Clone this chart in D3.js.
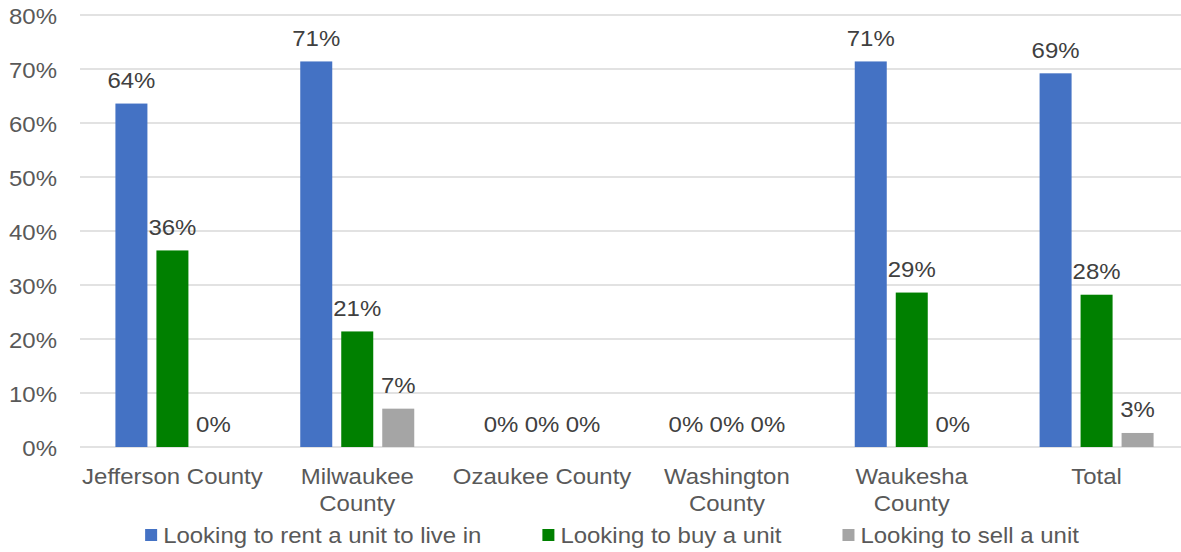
<!DOCTYPE html>
<html>
<head>
<meta charset="utf-8">
<script src="https://cdn.jsdelivr.net/npm/d3@7"></script>
<style>
  html, body { margin: 0; padding: 0; background: #fff; }
  svg { display: block; font-family: "Liberation Sans", Arial, sans-serif; }
</style>
</head>
<body>
<svg id="chart" width="1181" height="552"></svg>
<script>
// Survey responses by county
const categories = ["Jefferson County", "Milwaukee County", "Ozaukee County", "Washington County", "Waukesha County", "Total"];
const seriesNames = ["Looking to rent a unit to live in", "Looking to buy a unit", "Looking to sell a unit"];
const rentValues = [63.6, 71.4, 0, 0, 71.4, 69.2];
const buyValues  = [36.4, 21.4, 0, 0, 28.6, 28.2];
const sellValues = [0, 7.1, 0, 0, 0, 2.6];
const yTicks = [0, 10, 20, 30, 40, 50, 60, 70, 80];
const colors = ["#4472C4", "#008000", "#A5A5A5"];

const seriesValues = [rentValues, buyValues, sellValues];

const svg = d3.select("#chart");
const fontSize = 22.5;
const stretch = 1.065; // slightly widened lettering

const place = (x, y) => `translate(${x},${y}) scale(${stretch},1)`;

const x0 = d3.scaleBand().domain(categories).range([80, 1189]).paddingInner(0).paddingOuter(0);
const x1 = d3.scaleBand().domain(seriesNames).range([0, 114]).paddingInner(9 / 41).paddingOuter(0);
const groupOffset = (x0.bandwidth() - 114) / 2;
const y = d3.scaleLinear().domain([0, 80]).range([447, 15]);

// Gridlines
svg.append("g")
  .selectAll("line")
  .data(yTicks)
  .join("line")
  .attr("x1", 80).attr("x2", 1189)
  .attr("y1", d => y(d)).attr("y2", d => y(d))
  .attr("stroke", "#d9d9d9")
  .attr("stroke-width", 1.5);

// Y axis labels
const yAxis = d3.axisLeft(y).tickValues(yTicks).tickFormat(d => d + "%").tickSize(0).tickPadding(0);
const yg = svg.append("g").attr("transform", "translate(57,0)").call(yAxis);
yg.select(".domain").remove();
yg.selectAll("text")
  .attr("x", 0)
  .attr("transform", `scale(${stretch},1)`)
  .attr("font-size", fontSize)
  .attr("font-family", "Liberation Sans, Arial, sans-serif")
  .attr("fill", "#595959")
  .attr("dy", "0.36em");

// Bars
const groups = svg.append("g")
  .selectAll("g")
  .data(categories)
  .join("g")
  .attr("transform", d => `translate(${x0(d) + groupOffset},0)`);

const cells = groups.selectAll("g")
  .data((c, i) => seriesNames.map((s, j) => ({ series: s, j, value: seriesValues[j][i] })))
  .join("g");

cells.append("rect")
  .attr("x", d => x1(d.series))
  .attr("width", x1.bandwidth())
  .attr("y", d => y(d.value))
  .attr("height", d => y(0) - y(d.value))
  .attr("fill", d => colors[d.j]);

// Value labels
cells.append("text")
  .attr("transform", d => place(x1(d.series) + x1.bandwidth() / 2, y(d.value) - 15.5))
  .attr("text-anchor", "middle")
  .attr("font-size", fontSize)
  .attr("fill", "#404040")
  .text(d => Math.round(d.value) + "%");

// X axis category labels, wrapped to the band width
const xg = svg.append("g");
categories.forEach(c => {
  const t = xg.append("text")
    .attr("transform", place(x0(c) + x0.bandwidth() / 2, 484))
    .attr("text-anchor", "middle")
    .attr("font-size", fontSize)
    .attr("fill", "#595959");
  const limit = (x0.bandwidth() - 2) / stretch;
  const words = c.split(" ");
  let line = [];
  let tspan = t.append("tspan").attr("x", 0).attr("dy", 0);
  words.forEach(w => {
    line.push(w);
    tspan.text(line.join(" "));
    if (tspan.node().getComputedTextLength() > limit && line.length > 1) {
      line.pop();
      tspan.text(line.join(" "));
      line = [w];
      tspan = t.append("tspan").attr("x", 0).attr("dy", 27).text(w);
    }
  });
});

// Legend
const legend = svg.append("g");
let lx = 0;
seriesNames.forEach((s, i) => {
  const g = legend.append("g").attr("transform", `translate(${lx},0)`);
  g.append("rect").attr("x", 0).attr("y", 529).attr("width", 12).attr("height", 12).attr("fill", colors[i]);
  const t = g.append("text").attr("transform", place(18, 543))
    .attr("font-size", fontSize).attr("fill", "#595959").text(s);
  const w = 18 + t.node().getComputedTextLength() * stretch;
  lx += w + (i < seriesNames.length - 1 ? 61 : 0);
});
legend.attr("transform", `translate(${612 - lx / 2},0)`);
</script>
</body>
</html>
